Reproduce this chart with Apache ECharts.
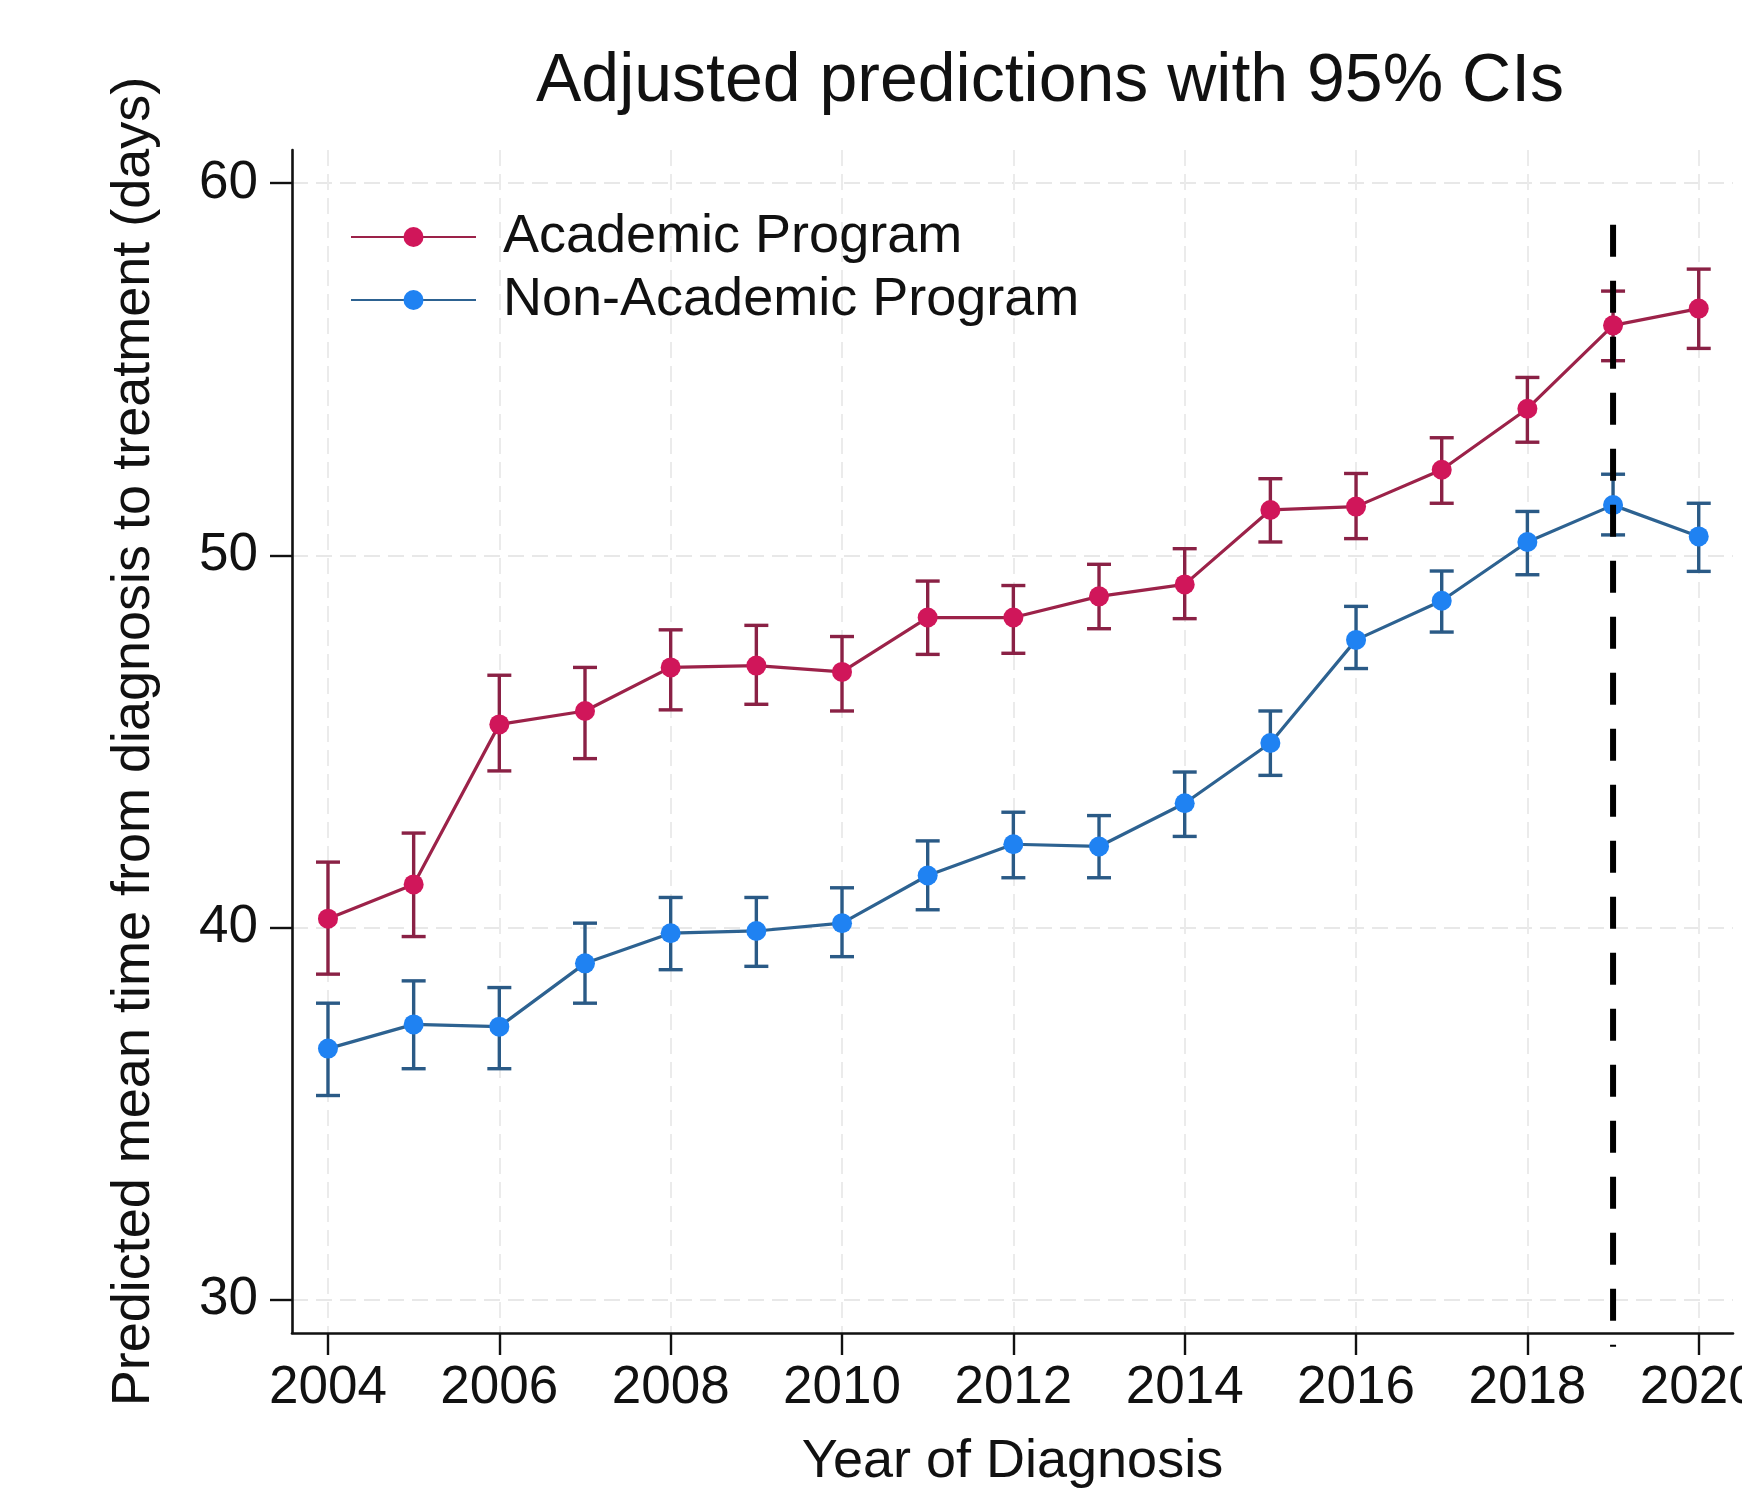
<!DOCTYPE html>
<html>
<head>
<meta charset="utf-8">
<title>Adjusted predictions with 95% CIs</title>
<script src="https://cdn.jsdelivr.net/npm/echarts@6/dist/echarts.min.js"></script>
<style>
  html, body { margin: 0; padding: 0; background: #ffffff; }
  #chart { width: 1742px; height: 1488px; }
</style>
</head>
<body>
<div id="chart"></div>
<script>
// Predicted mean time from diagnosis to treatment, by program type
const years = [2004, 2005, 2006, 2007, 2008, 2009, 2010, 2011, 2012, 2013, 2014, 2015, 2016, 2017, 2018, 2019, 2020];

const academicMean = [40.24, 41.16, 45.46, 45.82, 46.99, 47.04, 46.87, 48.33, 48.33, 48.90, 49.22, 51.22, 51.31, 52.30, 53.94, 56.18, 56.63];
const academicLow  = [38.75, 39.76, 44.21, 44.54, 45.85, 46.00, 45.82, 47.34, 47.37, 48.03, 48.30, 50.36, 50.45, 51.40, 53.04, 55.23, 55.56];
const academicHigh = [41.76, 42.54, 46.78, 46.99, 48.00, 48.12, 47.82, 49.31, 49.19, 49.76, 50.18, 52.06, 52.20, 53.16, 54.78, 57.10, 57.69];

const nonAcademicMean = [36.75, 37.40, 37.34, 39.04, 39.85, 39.91, 40.12, 41.40, 42.24, 42.18, 43.34, 44.96, 47.73, 48.78, 50.36, 51.35, 50.51];
const nonAcademicLow  = [35.49, 36.21, 36.21, 37.97, 38.87, 38.96, 39.22, 40.48, 41.34, 41.34, 42.45, 44.09, 46.96, 47.94, 49.48, 50.55, 49.57];
const nonAcademicHigh = [37.97, 38.57, 38.39, 40.12, 40.81, 40.81, 41.07, 42.33, 43.10, 43.01, 44.18, 45.82, 48.63, 49.58, 51.18, 52.18, 51.40];

const xTicks = [2004, 2006, 2008, 2010, 2012, 2014, 2016, 2018, 2020];
const yTicks = [30, 40, 50, 60];

// Vertical reference line (year 2019) and the span it covers
const refYear = 2019;
const refSpan = [58.88, 28.74];

const seriesNames = ['Academic Program', 'Non-Academic Program'];

const FONT = "'Liberation Sans', Arial, Helvetica, sans-serif";
const RED_MARK = '#d0165a', RED_LINE = '#9c2249', RED_CI = '#8a2145';
const BLUE_MARK = '#1f82f2', BLUE_LINE = '#2d6291', BLUE_CI = '#2a5a86';

const zip = (a, b) => a.map((v, i) => [v, b[i]]);
const ciData = (lo, hi) => years.map((y, i) => [y, lo[i], hi[i]]);

function capRenderer(color) {
  const half = 12;
  return function (params, api) {
    const x = api.value(0);
    const pLo = api.coord([x, api.value(1)]);
    const pHi = api.coord([x, api.value(2)]);
    const style = { stroke: color, lineWidth: 3.4, fill: null };
    return {
      type: 'group',
      children: [
        { type: 'line', shape: { x1: pLo[0], y1: pLo[1], x2: pHi[0], y2: pHi[1] }, style },
        { type: 'line', shape: { x1: pLo[0] - half, y1: pLo[1], x2: pLo[0] + half, y2: pLo[1] }, style },
        { type: 'line', shape: { x1: pHi[0] - half, y1: pHi[1], x2: pHi[0] + half, y2: pHi[1] }, style }
      ]
    };
  };
}

const chart = echarts.init(document.getElementById('chart'), null, { renderer: 'canvas' });

chart.setOption({
  animation: false,
  backgroundColor: '#ffffff',
  textStyle: { fontFamily: FONT },
  title: {
    text: 'Adjusted predictions with 95% CIs',
    left: 1050,
    top: 48,
    padding: 0,
    textAlign: 'center',
    textStyle: { fontFamily: FONT, fontSize: 68, fontWeight: 'normal', color: '#111111' }
  },
  legend: {
    data: seriesNames,
    orient: 'vertical',
    left: 350,
    top: 210,
    padding: 0,
    itemWidth: 125,
    itemHeight: 25,
    itemGap: 9,
    textStyle: {
      fontFamily: FONT, fontSize: 54, lineHeight: 54, color: '#111111',
      padding: [0, 0, 0, 22]
    }
  },
  grid: { left: 292, right: 9, top: 150, bottom: 155, containLabel: false, outerBoundsMode: 'none' },
  xAxis: {
    type: 'value',
    min: 2003.58,
    max: 2020.4,
    name: 'Year of Diagnosis',
    nameLocation: 'middle',
    nameGap: 102,
    nameTextStyle: { fontFamily: FONT, fontSize: 54, color: '#111111' },
    axisLine: { show: true, onZero: false, lineStyle: { color: '#111111', width: 2.6 } },
    axisTick: { show: true, length: 22, lineStyle: { color: '#111111', width: 2.4 }, customValues: xTicks },
    axisLabel: {
      fontFamily: FONT, fontSize: 53, color: '#111111', margin: 29, customValues: xTicks,
      formatter: v => String(v)
    },
    splitLine: { show: true, lineStyle: { color: '#ebebeb', width: 2, type: [16, 8] } }
  },
  yAxis: {
    type: 'value',
    min: 29.11,
    max: 60.89,
    name: 'Predicted mean time from diagnosis to treatment (days)',
    nameLocation: 'middle',
    nameRotate: 90,
    nameGap: 131,
    nameTextStyle: { fontFamily: FONT, fontSize: 54, color: '#111111' },
    axisLine: { show: true, onZero: false, lineStyle: { color: '#111111', width: 2.6 } },
    axisTick: { show: true, length: 22, lineStyle: { color: '#111111', width: 2.4 }, customValues: yTicks },
    axisLabel: {
      fontFamily: FONT, fontSize: 53, color: '#111111', margin: 34, customValues: yTicks,
      formatter: v => String(v)
    },
    splitLine: { show: true, lineStyle: { color: '#e8e8e8', width: 2, type: [16, 8] } }
  },
  series: [
    {
      name: 'Academic CI',
      type: 'custom',
      renderItem: capRenderer(RED_CI),
      data: ciData(academicLow, academicHigh),
      encode: { x: 0, y: [1, 2] },
      z: 2,
      silent: true
    },
    {
      name: 'Non-Academic CI',
      type: 'custom',
      renderItem: capRenderer(BLUE_CI),
      data: ciData(nonAcademicLow, nonAcademicHigh),
      encode: { x: 0, y: [1, 2] },
      z: 2,
      silent: true
    },
    {
      name: seriesNames[0],
      type: 'line',
      data: zip(years, academicMean),
      symbol: 'circle',
      symbolSize: 20,
      showSymbol: true,
      lineStyle: { color: RED_LINE, width: 3.2 },
      itemStyle: { color: RED_MARK, borderWidth: 0 },
      z: 3
    },
    {
      name: seriesNames[1],
      type: 'line',
      data: zip(years, nonAcademicMean),
      symbol: 'circle',
      symbolSize: 20,
      showSymbol: true,
      lineStyle: { color: BLUE_LINE, width: 3.2 },
      itemStyle: { color: BLUE_MARK, borderWidth: 0 },
      z: 3
    },
    {
      name: 'Reference year',
      type: 'line',
      data: [[refYear, refSpan[0]], [refYear, refSpan[1]]],
      showSymbol: false,
      symbol: 'none',
      clip: false,
      silent: true,
      lineStyle: { color: '#000000', width: 6, type: [32, 24], cap: 'butt' },
      z: 5
    }
  ]
});
</script>
</body>
</html>
